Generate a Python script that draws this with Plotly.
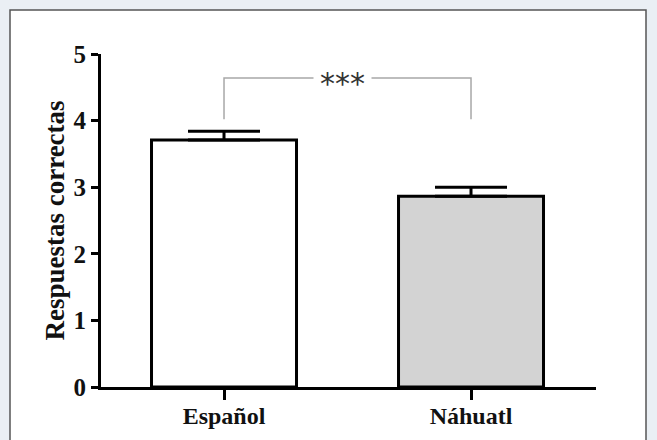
import plotly.graph_objects as go

# ---- data ----
categories = ["Español", "Náhuatl"]
means = [3.71, 2.865]
sem = [0.13, 0.135]
bar_colors = ["#ffffff", "#d3d3d3"]
y_ticks = [0, 1, 2, 3, 4, 5]
y_title = "Respuestas correctas"
sig_label = "***"
sig_level = 4.64
sig_leg_bottom = 4.02

W, H = 657, 440
L, R, T, B = 101, 61, 54, 53
PW, PH = W - L - R, H - T - B

def px_x(p):
    return (p - L) / PW

def px_y(p):
    return (H - B - p) / PH

serif = "Liberation Serif"

fig = go.Figure()

fig.add_trace(go.Bar(
    x=categories, y=means,
    width=0.587,
    marker=dict(color=bar_colors, line=dict(color="black", width=3)),
    error_y=dict(type="data", symmetric=False, array=sem,
                 arrayminus=[0] * len(sem), thickness=3, width=36, color="black"),
    showlegend=False, hoverinfo="skip",
))

fig.add_trace(go.Scatter(
    x=[categories[0], categories[0], categories[1], categories[1]],
    y=[sig_leg_bottom, sig_level, sig_level, sig_leg_bottom],
    mode="lines", line=dict(color="#a8a8a8", width=1.5),
    showlegend=False, hoverinfo="skip",
))

fig.add_annotation(
    x=0.48, y=sig_level, xref="x", yref="y", text=sig_label,
    showarrow=False, bgcolor="white", borderpad=6,
    font=dict(family="DejaVu Sans", size=30, color="#333333"),
    yshift=-6,
)

# white panel with border
fig.add_shape(type="rect", xref="paper", yref="paper",
              x0=px_x(10), x1=px_x(646), y0=px_y(10), y1=px_y(445),
              fillcolor="white", line=dict(color="#555555", width=1.5),
              layer="below")

fig.update_layout(
    width=W, height=H,
    margin=dict(l=L, r=R, t=T, b=B, pad=0, autoexpand=False),
    paper_bgcolor="#eaeff4",
    plot_bgcolor="white",
    font=dict(family=serif),
    xaxis=dict(
        range=[-0.498, 1.506], showgrid=False, zeroline=False, automargin=False,
        showline=True, linecolor="black", linewidth=3,
        ticks="outside", ticklen=10, tickwidth=3, tickcolor="black",
        ticklabelstandoff=-5,
        tickfont=dict(family=serif, size=24, color="#111111", weight="bold"),
    ),
    yaxis=dict(
        range=[0, 5], tickvals=y_ticks, showgrid=False, zeroline=False, automargin=False,
        showline=True, linecolor="black", linewidth=3,
        ticks="outside", ticklen=7, tickwidth=3, tickcolor="black",
        tickfont=dict(family=serif, size=25, color="#111111", weight="bold"),
        title=dict(text=y_title, standoff=2,
                   font=dict(family=serif, size=27, color="#111111", weight="bold")),
    ),
)

fig.write_html(
    "out.html",
    config={"displayModeBar": False},
    post_script="document.body.style.margin='0';document.body.style.overflow='hidden';",
)
